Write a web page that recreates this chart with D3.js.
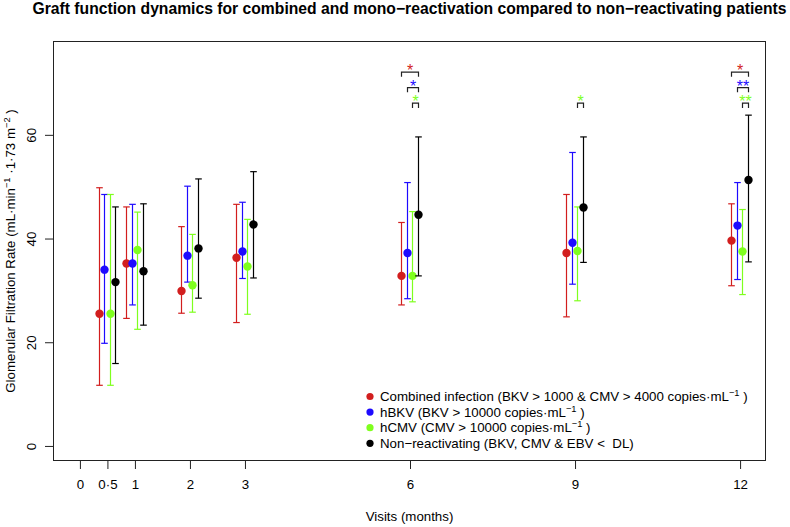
<!DOCTYPE html>
<html><head><meta charset="utf-8">
<script src="https://cdn.jsdelivr.net/npm/d3@7/dist/d3.min.js"></script>
<style>
body{margin:0;background:#fff;}
svg{display:block;font-family:"Liberation Sans",Arial,Helvetica,sans-serif;}
text{white-space:pre;}
</style></head><body>
<svg id="chart" width="790" height="527"></svg>
<script>
// ---- data ----
const visits = [0.5, 1, 2, 3, 6, 9, 12];
const xTickValues = [0, 0.5, 1, 2, 3, 6, 9, 12];
const xTickLabels = ["0", "0·5", "1", "2", "3", "6", "9", "12"];
const yTickValues = [0, 20, 40, 60];

const combinedMean = [25.4, 35.1, 29.8, 36.2, 32.7, 37.1, 39.5];
const combinedLow  = [11.6, 24.5, 25.5, 23.7, 27.1, 24.8, 30.8];
const combinedHigh = [49.7, 46.0, 42.2, 46.5, 43.0, 48.4, 46.6];

const hbkvMean = [33.9, 35.1, 36.6, 37.4, 37.1, 39.1, 42.4];
const hbkvLow  = [19.7, 27.1, 31.5, 32.2, 28.3, 31.1, 32.0];
const hbkvHigh = [48.4, 46.5, 50.0, 46.9, 50.7, 56.5, 50.7];

const hcmvMean = [25.4, 37.7, 30.9, 34.5, 32.7, 37.5, 37.4];
const hcmvLow  = [11.6, 22.4, 25.7, 25.3, 27.7, 27.9, 29.1];
const hcmvHigh = [48.4, 45.0, 40.7, 43.6, 45.1, 46.0, 45.5];

const nonMean = [31.5, 33.6, 38.0, 42.6, 44.5, 45.9, 51.2];
const nonLow  = [15.8, 23.2, 28.4, 32.3, 32.7, 35.3, 35.4];
const nonHigh = [46.0, 46.6, 51.4, 52.8, 59.5, 59.5, 63.7];

// significance marks vs non-reactivating
const sigVisits = [6, 6, 6, 9, 12, 12, 12];
const sigSeries = [0, 1, 2, 2, 0, 1, 2];
const sigLabels = ["*", "*", "*", "*", "*", "**", "**"];

const seriesColors = ["#D21E1E", "#1E0AFF", "#7FFF1E", "#000000"];

// ---- layout ----
const FS = 13.3;
const svg = d3.select("#chart");
const L = 53, R = 766, T = 41, B = 461;
const x = d3.scaleLinear().domain([-0.48, 12.48]).range([L, R]);
const y = d3.scaleLinear().domain([-3, 78]).range([B, T]);
const offs = i => (i - 1.5) * 0.1;

const series = [
  {mean: combinedMean, low: combinedLow, high: combinedHigh},
  {mean: hbkvMean, low: hbkvLow, high: hbkvHigh},
  {mean: hcmvMean, low: hcmvLow, high: hcmvHigh},
  {mean: nonMean, low: nonLow, high: nonHigh}
];

// title
svg.append("text").attr("x", (L + R) / 2).attr("y", 14).attr("text-anchor", "middle")
  .attr("font-weight", "bold").attr("font-size", 15.7)
  .text("Graft function dynamics for combined and mono\u2212reactivation compared to non\u2212reactivating patients");

// box
svg.append("rect").attr("x", L + 0.5).attr("y", T + 0.5).attr("width", R - L - 1).attr("height", B - T - 1)
  .attr("fill", "none").attr("stroke", "#222").attr("stroke-width", 1);

// x axis
const xAxis = svg.append("g").attr("transform", `translate(0.5,${B})`)
  .call(d3.axisBottom(x).tickValues(xTickValues).tickSize(8).tickPadding(11)
    .tickFormat((d, i) => xTickLabels[i]));
xAxis.select(".domain").remove();
xAxis.selectAll("line").attr("stroke", "#222");
xAxis.selectAll("text").attr("font-size", FS).attr("font-family", "Liberation Sans, Arial, sans-serif").attr("fill", "#000");

// y axis
const yAxis = svg.append("g").attr("transform", `translate(${L},0.5)`)
  .call(d3.axisLeft(y).tickValues(yTickValues).tickSize(8).tickFormat(d3.format("d")));
yAxis.select(".domain").remove();
yAxis.selectAll("line").attr("stroke", "#222");
yAxis.selectAll("text").attr("font-size", FS).attr("font-family", "Liberation Sans, Arial, sans-serif")
  .attr("fill", "#000").attr("text-anchor", "middle").attr("dy", null)
  .attr("x", null).attr("transform", "translate(-17,0) rotate(-90)").attr("y", 0);

// axis titles
svg.append("text").attr("x", (L + R) / 2).attr("y", 521).attr("text-anchor", "middle")
  .attr("font-size", FS).text("Visits (months)");
const yt = svg.append("text").attr("transform", `translate(15,${(T + B) / 2}) rotate(-90)`)
  .attr("text-anchor", "middle").attr("font-size", FS);
yt.append("tspan").text("Glomerular Filtration Rate (mL·min");
yt.append("tspan").attr("font-size", 9.3).attr("dy", -5).text("\u22121");
yt.append("tspan").attr("dy", 5).text(" ·1·73 m");
yt.append("tspan").attr("font-size", 9.3).attr("dy", -5).text("\u22122");
yt.append("tspan").attr("dy", 5).text(" )");

// error bars + points
const cap = 3.3;
series.forEach((s, si) => {
  const g = svg.append("g");
  const col = seriesColors[si];
  visits.forEach((v, vi) => {
    const cx = Math.round(x(v + offs(si))) + 0.5;
    g.append("line").attr("x1", cx).attr("x2", cx).attr("y1", y(s.low[vi])).attr("y2", y(s.high[vi]))
      .attr("stroke", col).attr("stroke-width", 1.2);
    [s.low[vi], s.high[vi]].forEach(e => {
      g.append("line").attr("x1", cx - cap).attr("x2", cx + cap).attr("y1", y(e)).attr("y2", y(e))
        .attr("stroke", col).attr("stroke-width", 1.2);
    });
  });
  g.selectAll("circle").data(visits).join("circle")
    .attr("cx", (v) => Math.round(x(v + offs(si))) + 0.5)
    .attr("cy", (v, vi) => y(s.mean[vi]))
    .attr("r", 4.2).attr("fill", col);
});

// significance brackets
const starFS = 16;
sigVisits.forEach((v, k) => {
  const si = sigSeries[k];
  const level = 72 - 3 * si;
  const x1 = Math.round(x(v + offs(si))) + 0.5;
  const x2 = Math.round(x(v + offs(3))) + 0.5;
  const yl = y(level), yb = y(level - 0.9);
  svg.append("path").attr("d", `M${x1},${yb}V${yl}H${x2}V${yb}`)
    .attr("fill", "none").attr("stroke", "#222").attr("stroke-width", 1.2);
  svg.append("text").attr("x", (x1 + x2) / 2).attr("y", y(level + 1) + 0.57 * starFS)
    .attr("text-anchor", "middle").attr("font-size", starFS).attr("fill", seriesColors[si])
    .text(sigLabels[k]);
});

// legend
const legendItems = [
  ["Combined infection (BKV > 1000 & CMV > 4000 copies·mL", "\u22121", " )"],
  ["hBKV (BKV > 10000 copies·mL", "\u22121", " )"],
  ["hCMV (CMV > 10000 copies·mL", "\u22121", " )"],
  ["Non\u2212reactivating (BKV, CMV & EBV <  DL)", null, null]
];
legendItems.forEach((it, i) => {
  const cy = 396.5 + 15.6 * i;
  svg.append("circle").attr("cx", 370).attr("cy", cy).attr("r", 3.6).attr("fill", seriesColors[i]);
  const t = svg.append("text").attr("x", 380).attr("y", cy + 4.7).attr("font-size", FS);
  t.append("tspan").text(it[0]);
  if (it[1]) {
    t.append("tspan").attr("font-size", 9.3).attr("dy", -5).text(it[1]);
    t.append("tspan").attr("dy", 5).text(it[2]);
  }
});
</script>
</body></html>
